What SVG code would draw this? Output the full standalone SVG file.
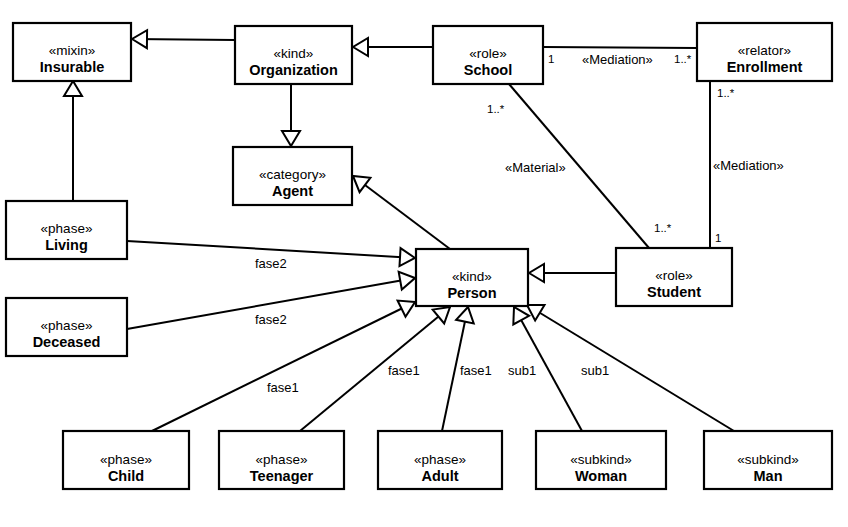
<svg xmlns="http://www.w3.org/2000/svg" width="848" height="527" viewBox="0 0 848 527">
<style>
.box{fill:#fff;stroke:#000;stroke-width:2.2}
.st{font-family:"Liberation Sans",Arial,sans-serif;font-size:13.5px;text-anchor:middle;fill:#000}
.nm{font-family:"Liberation Sans",Arial,sans-serif;font-size:14.5px;font-weight:bold;text-anchor:middle;fill:#000}
.ln{fill:none;stroke:#000;stroke-width:2}
.lb{font-family:"Liberation Sans",Arial,sans-serif;font-size:13px;fill:#000}
.ml{font-family:"Liberation Sans",Arial,sans-serif;font-size:11.5px;fill:#000}
</style>
<defs>
<marker id="gen" markerUnits="userSpaceOnUse" viewBox="-2 -11 19 22" markerWidth="19" markerHeight="22" refX="15" refY="0" orient="auto">
<path d="M15,0 L0,-9 L0,9 Z" fill="#fff" stroke="#000" stroke-width="2" stroke-linejoin="miter"/>
</marker>
</defs>
<rect width="848" height="527" fill="#fff"/>
<g id="connectors">
<path class="ln" d="M235,40 L132,39" marker-end="url(#gen)"/>
<path class="ln" d="M433,47 L353,47" marker-end="url(#gen)"/>
<path class="ln" d="M291,84 L291,146" marker-end="url(#gen)"/>
<path class="ln" d="M73,201 L73,81" marker-end="url(#gen)"/>
<path class="ln" d="M450,249 L353,176" marker-end="url(#gen)"/>
<path class="ln" d="M127,241 L415,258" marker-end="url(#gen)"/>
<path class="ln" d="M127,329 L415,278" marker-end="url(#gen)"/>
<path class="ln" d="M152,431 L415,302" marker-end="url(#gen)"/>
<path class="ln" d="M300,431 L450,307" marker-end="url(#gen)"/>
<path class="ln" d="M442,431 L468,307" marker-end="url(#gen)"/>
<path class="ln" d="M582,431 L514,307" marker-end="url(#gen)"/>
<path class="ln" d="M734,431 L527,305" marker-end="url(#gen)"/>
<path class="ln" d="M616,273 L529,273" marker-end="url(#gen)"/>
<path class="ln" d="M543,47 L697,48"/>
<path class="ln" d="M509,84 L649,248"/>
<path class="ln" d="M710,81 L710,248"/>
<text class="lb" x="255" y="268">fase2</text>
<text class="lb" x="255" y="324">fase2</text>
<text class="lb" x="267" y="392">fase1</text>
<text class="lb" x="388" y="375">fase1</text>
<text class="lb" x="460" y="375">fase1</text>
<text class="lb" x="508" y="375">sub1</text>
<text class="lb" x="581" y="375">sub1</text>
<text class="ml" x="548" y="63">1</text>
<text class="lb" x="582" y="64">«Mediation»</text>
<text class="ml" x="674" y="63">1..*</text>
<text class="ml" x="487" y="113">1..*</text>
<text class="lb" x="505" y="172">«Material»</text>
<text class="ml" x="654" y="232">1..*</text>
<text class="ml" x="717" y="97">1..*</text>
<text class="lb" x="713" y="170">«Mediation»</text>
<text class="ml" x="715" y="242">1</text>
</g>
<g id="insurable"><rect class="box" x="13" y="23" width="118" height="58"/><text class="st" x="72" y="55">«mixin»</text><text class="nm" x="72" y="72">Insurable</text></g>
<g id="organization"><rect class="box" x="235" y="26" width="117" height="58"/><text class="st" x="293.5" y="58">«kind»</text><text class="nm" x="293.5" y="75">Organization</text></g>
<g id="school"><rect class="box" x="433" y="26" width="110" height="58"/><text class="st" x="488" y="58">«role»</text><text class="nm" x="488" y="75">School</text></g>
<g id="enrollment"><rect class="box" x="697" y="23" width="135" height="58"/><text class="st" x="764.5" y="55">«relator»</text><text class="nm" x="764.5" y="72">Enrollment</text></g>
<g id="agent"><rect class="box" x="233" y="147" width="119" height="58"/><text class="st" x="292.5" y="179">«category»</text><text class="nm" x="292.5" y="196">Agent</text></g>
<g id="living"><rect class="box" x="6" y="201" width="121" height="58"/><text class="st" x="66.5" y="233">«phase»</text><text class="nm" x="66.5" y="250">Living</text></g>
<g id="deceased"><rect class="box" x="6" y="298" width="121" height="58"/><text class="st" x="66.5" y="330">«phase»</text><text class="nm" x="66.5" y="347">Deceased</text></g>
<g id="person"><rect class="box" x="416" y="249" width="112" height="57"/><text class="st" x="472" y="281">«kind»</text><text class="nm" x="472" y="298">Person</text></g>
<g id="student"><rect class="box" x="616" y="248" width="116" height="58"/><text class="st" x="674" y="280">«role»</text><text class="nm" x="674" y="297">Student</text></g>
<g id="child"><rect class="box" x="63" y="431" width="126" height="58"/><text class="st" x="126" y="464">«phase»</text><text class="nm" x="126" y="481">Child</text></g>
<g id="teenager"><rect class="box" x="219" y="431" width="125" height="58"/><text class="st" x="281.5" y="464">«phase»</text><text class="nm" x="281.5" y="481">Teenager</text></g>
<g id="adult"><rect class="box" x="378" y="431" width="124" height="58"/><text class="st" x="440" y="464">«phase»</text><text class="nm" x="440" y="481">Adult</text></g>
<g id="woman"><rect class="box" x="536" y="431" width="130" height="58"/><text class="st" x="601" y="464">«subkind»</text><text class="nm" x="601" y="481">Woman</text></g>
<g id="man"><rect class="box" x="704" y="431" width="128" height="58"/><text class="st" x="768" y="464">«subkind»</text><text class="nm" x="768" y="481">Man</text></g>
</svg>
